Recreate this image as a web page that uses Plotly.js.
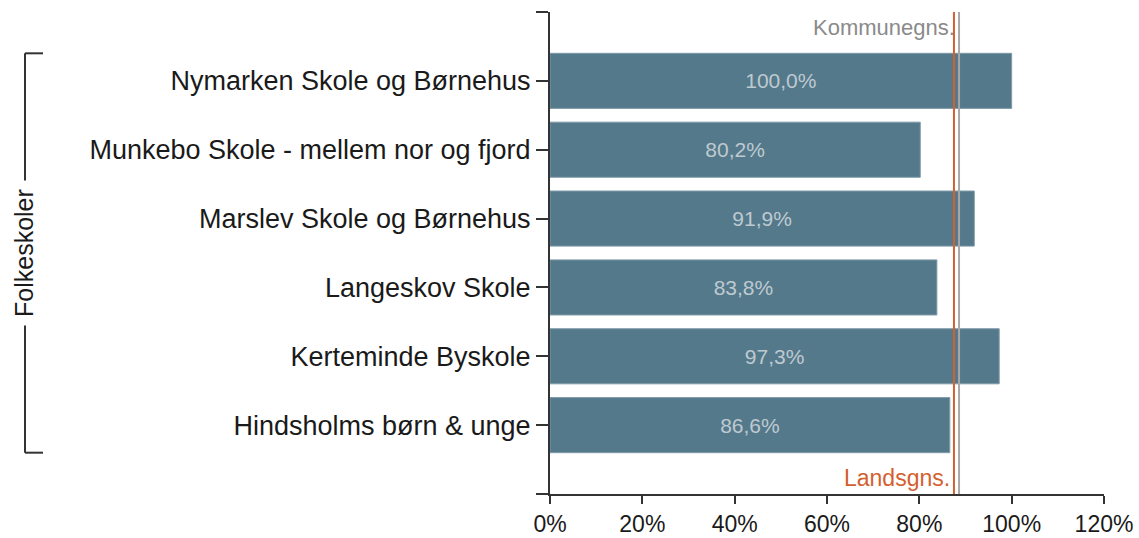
<!DOCTYPE html>
<html>
<head>
<meta charset="utf-8">
<script src="https://cdn.plot.ly/plotly-3.0.1.min.js"></script>
<style>
  body { margin: 0; background: #fff; }
  #chart { width: 1139px; height: 538px; }
</style>
</head>
<body>
<div id="chart"></div>
<script>
// Skoler (bottom to top, as drawn)
var schools = [
  "Hindsholms børn & unge",
  "Kerteminde Byskole",
  "Langeskov Skole",
  "Marslev Skole og Børnehus",
  "Munkebo Skole - mellem nor og fjord",
  "Nymarken Skole og Børnehus"
];
var shares = [0.866, 0.973, 0.838, 0.919, 0.802, 1.000];

// reference averages
var refNames = ["Landsgns.", "Kommunegns."];
var refValues = [0.875, 0.886];
var refColors = ["#d4602f", "#a8a8a8"];
var refTextColors = ["#d4602f", "#8a8a8a"];

var groupLabel = "Folkeskoler";

var pos = schools.map(function (s, i) { return i; });

var trace = {
  type: "bar",
  orientation: "h",
  x: shares,
  y: pos,
  width: 0.8,
  marker: { color: "#53798b", line: { color: "#7f9aa8", width: 1 } },
  texttemplate: "%{x:.1%}",
  textposition: "inside",
  insidetextanchor: "middle",
  textfont: { family: "Liberation Sans, Arial", size: 21, color: "#bfc9d0" },
  hoverinfo: "none"
};

// plot area in pixels: x 550..1104
var L = 550, W = 554;
function px(x) { return (x - L) / W; }

var shapes = [];
var annotations = [];
refValues.forEach(function (v, i) {
  shapes.push({
    type: "line", xref: "x", yref: "paper",
    x0: v, x1: v, y0: 0, y1: 1,
    line: { color: refColors[i], width: 2 }
  });
});
annotations.push({
  xref: "x", yref: "paper", x: refValues[0], y: 0,
  xanchor: "right", yanchor: "bottom", xshift: -2, yshift: 1,
  text: refNames[0], showarrow: false,
  font: { family: "Liberation Sans, Arial", size: 23, color: refTextColors[0] }
});
annotations.push({
  xref: "x", yref: "paper", x: refValues[1], y: 1,
  xanchor: "right", yanchor: "top", xshift: -2, yshift: -1,
  text: refNames[1], showarrow: false,
  font: { family: "Liberation Sans, Arial", size: 22, color: refTextColors[1] }
});

// group bracket
var grpTop = pos[pos.length - 1] + 0.4, grpBot = pos[0] - 0.4;
shapes.push({ type: "line", xref: "paper", yref: "y", x0: px(25), x1: px(25), y0: grpBot, y1: grpTop,
  line: { color: "#333", width: 2 } });
shapes.push({ type: "line", xref: "paper", yref: "y", x0: px(25), x1: px(43), y0: grpTop, y1: grpTop,
  line: { color: "#333", width: 2 } });
shapes.push({ type: "line", xref: "paper", yref: "y", x0: px(25), x1: px(43), y0: grpBot, y1: grpBot,
  line: { color: "#333", width: 2 } });
annotations.push({
  xref: "paper", yref: "y", x: px(24), y: (grpTop + grpBot) / 2,
  xanchor: "center", yanchor: "middle",
  text: groupLabel, textangle: -90, showarrow: false,
  bgcolor: "#ffffff", borderpad: 8,
  font: { family: "Liberation Sans, Arial", size: 25, color: "#1a1a1a" }
});

var layout = {
  width: 1139, height: 538,
  margin: { l: L, r: 35, t: 12, b: 44 },
  paper_bgcolor: "#ffffff", plot_bgcolor: "#ffffff",
  separators: ",.",
  showlegend: false,
  font: { family: "Liberation Sans, Arial", color: "#1a1a1a" },
  xaxis: {
    range: [0, 1.2],
    tickvals: [0, 0.2, 0.4, 0.6, 0.8, 1.0, 1.2],
    tickformat: ".0%",
    showgrid: false, zeroline: false,
    showline: true, linecolor: "#333", linewidth: 2,
    ticks: "outside", ticklen: 8, tickwidth: 2, tickcolor: "#333",
    tickfont: { size: 23, color: "#1a1a1a" }
  },
  yaxis: {
    range: [-1, pos.length],
    tickvals: [-1].concat(pos, [pos.length]),
    ticktext: [""].concat(schools, [""]),
    showgrid: false, zeroline: false,
    showline: true, linecolor: "#333", linewidth: 2,
    ticks: "outside", ticklen: 12, tickwidth: 2, tickcolor: "#333",
    tickfont: { size: 27, color: "#1a1a1a" }
  },
  shapes: shapes,
  annotations: annotations
};

Plotly.newPlot("chart", [trace], layout, { displayModeBar: false, staticPlot: true });
</script>
</body>
</html>
